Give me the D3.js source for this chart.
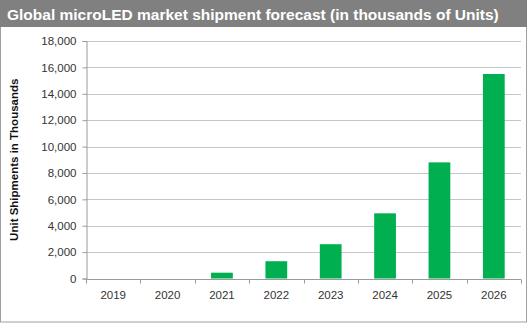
<!DOCTYPE html>
<html>
<head>
<script src="https://d3js.org/d3.v7.min.js"></script>
<style>
  body { margin: 0; background: #fff; }
  text { font-family: "Liberation Sans", Arial, sans-serif; }
</style>
</head>
<body>
<svg id="chart" width="529" height="324"></svg>
<script>
// data
const years = ["2019", "2020", "2021", "2022", "2023", "2024", "2025", "2026"];
const shipments = [0, 0, 440, 1310, 2600, 4940, 8800, 15500];
const yTicks = [0, 2000, 4000, 6000, 8000, 10000, 12000, 14000, 16000, 18000];
const title = "Global microLED market shipment forecast (in thousands of Units)";
const yTitle = "Unit Shipments in Thousands";

const svg = d3.select("#chart");
const W = 529, H = 324;
const m = {left: 86, right: 8, top: 41, bottom: 45.5};

// panel frame + title bar
svg.append("rect").attr("x", 0.5).attr("y", 0.5).attr("width", W - 3).attr("height", H - 2.5)
  .attr("fill", "#fff").attr("stroke", "#a0a0a0");
svg.append("rect").attr("x", 0).attr("y", 0).attr("width", W - 2).attr("height", 27)
  .attr("fill", "#808080");
svg.append("text").attr("x", 7).attr("y", 19.5)
  .attr("fill", "#fff").attr("font-weight", "bold").attr("font-size", 15.5)
  .text(title);

const x = d3.scaleBand().domain(years).range([m.left, W - m.right]).paddingInner(0.6).paddingOuter(0.3);
const xb = d3.scaleBand().domain(years).range([m.left, W - m.right]);
const y = d3.scaleLinear().domain([0, 18000]).range([H - m.bottom, m.top]);

// gridlines
svg.append("g").selectAll("line").data(yTicks.slice(1)).join("line")
  .attr("x1", m.left).attr("x2", W - m.right)
  .attr("y1", d => Math.round(y(d)) + 0.5).attr("y2", d => Math.round(y(d)) + 0.5)
  .attr("stroke", "#c6c6c6").attr("stroke-width", 1.2);

// bars
svg.append("g").selectAll("rect").data(shipments).join("rect")
  .attr("x", (d, i) => x(years[i]))
  .attr("width", x.bandwidth())
  .attr("y", d => y(d))
  .attr("height", d => y(0) - y(d))
  .attr("fill", "#00b050");

// y axis
const yAxis = svg.append("g").attr("transform", `translate(${m.left + 0.5},0)`)
  .call(d3.axisLeft(y).tickValues(yTicks).tickSize(4).tickPadding(6).tickFormat(d3.format(",")));
yAxis.select(".domain").attr("stroke", "#9a9a9a");
yAxis.selectAll(".tick line").attr("stroke", "#9a9a9a");
yAxis.selectAll("text").attr("fill", "#333").attr("font-size", 11.5)
  .style("font-family", "'Liberation Sans', Arial, sans-serif");

// x axis: ticks at category boundaries
const xAxis = svg.append("g").attr("transform", `translate(0,${Math.round(y(0)) + 0.5})`);
xAxis.append("line").attr("x1", m.left).attr("x2", W - m.right).attr("stroke", "#9a9a9a");
xAxis.selectAll(".tk").data(years.concat(["end"])).join("line").attr("class", "tk")
  .attr("x1", (d, i) => Math.round(m.left + i * xb.step()) + 0.5)
  .attr("x2", (d, i) => Math.round(m.left + i * xb.step()) + 0.5)
  .attr("y1", 0).attr("y2", 4).attr("stroke", "#9a9a9a");
xAxis.selectAll("text").data(years).join("text")
  .attr("x", d => xb(d) + xb.bandwidth() / 2).attr("y", 19)
  .attr("text-anchor", "middle").attr("fill", "#333").attr("font-size", 11.5)
  .text(d => d);

// y title
svg.append("text")
  .attr("transform", `translate(18,${(m.top + H - m.bottom) / 2}) rotate(-90)`)
  .attr("text-anchor", "middle").attr("font-weight", "bold").attr("font-size", 11.5)
  .attr("fill", "#111").text(yTitle);
</script>
</body>
</html>
